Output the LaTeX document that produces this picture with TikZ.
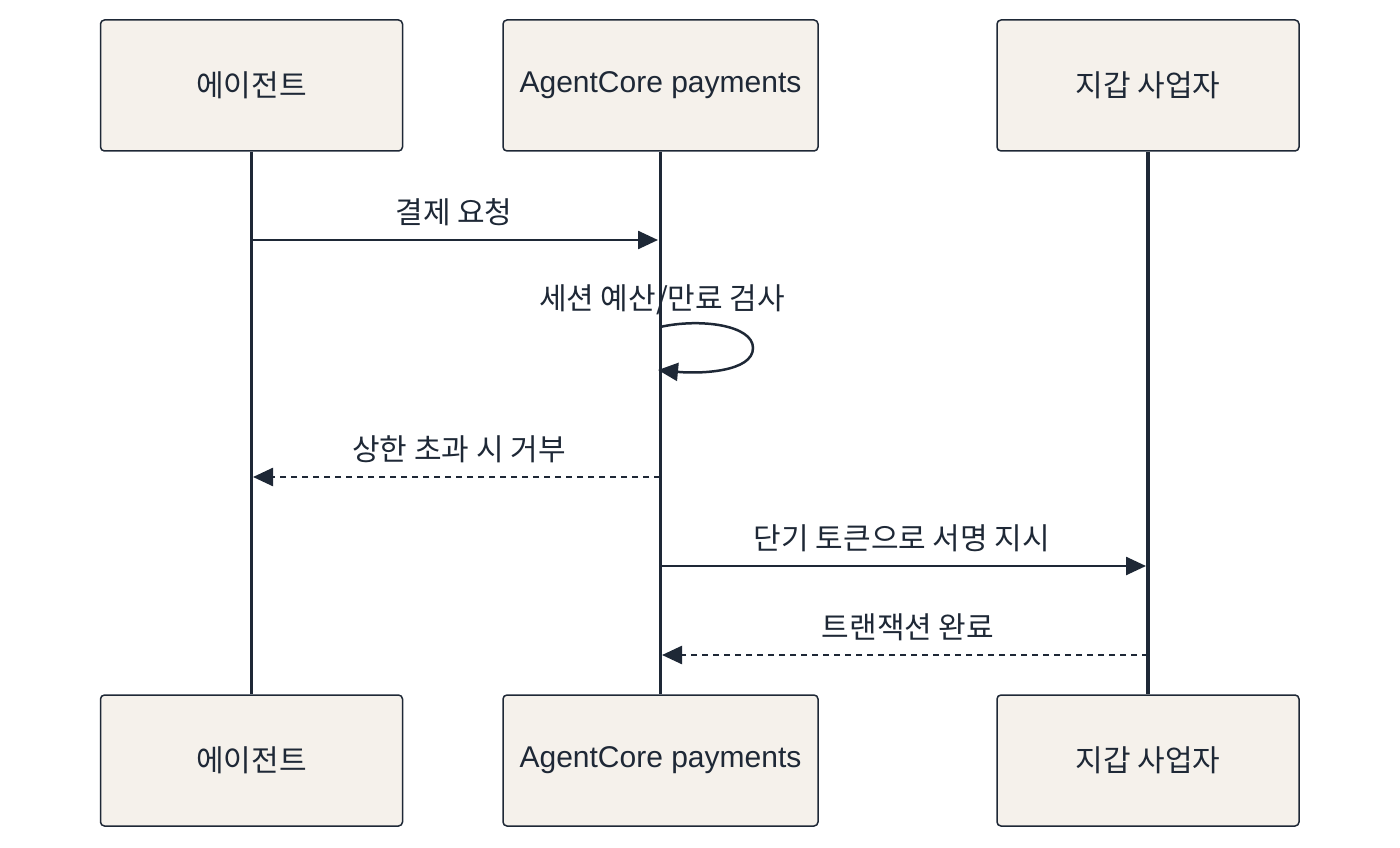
\documentclass[tikz,border=0pt]{standalone}
\usepackage{fontspec}
\setmainfont{Liberation Sans}
\newfontfamily\kr{Noto Sans CJK KR}
\usetikzlibrary{arrows.meta}
\definecolor{ink}{HTML}{1E2836}
\definecolor{boxfill}{HTML}{F5F1EB}
\begin{document}
\begin{tikzpicture}[x=1pt,y=-1pt,
  actor/.style={draw=ink,fill=boxfill,line width=1.5pt,rounded corners=4pt,minimum width=302pt,minimum height=131pt,inner sep=0pt,font=\fontsize{30}{34}\selectfont,text=ink},
  life/.style={draw=ink,line width=3.5pt},
  msg/.style={draw=ink,line width=2.5pt,-{Triangle[length=20pt,width=18pt]}},
  ret/.style={msg,dash pattern=on 6pt off 5pt},
  lab/.style={font=\kr\fontsize{30}{34}\selectfont,text=ink,inner sep=0pt}]
\useasboundingbox (0,0) rectangle (1400,848);
\node[actor] (a1) at (251.5,85.5) {\kr 에이전트};
\node[actor,minimum width=315pt] (b1) at (660.5,85.5) {AgentCore payments};
\node[actor] (c1) at (1148,85.5) {\kr 지갑 사업자};
\node[actor] (a2) at (251.5,760.5) {\kr 에이전트};
\node[actor,minimum width=315pt] (b2) at (660.5,760.5) {AgentCore payments};
\node[actor] (c2) at (1148,760.5) {\kr 지갑 사업자};
\draw[life] (a1) -- (a2);
\draw[life] (b1) -- (b2);
\draw[life] (c1) -- (c2);
\coordinate (p1a) at (251,240); \coordinate (p1b) at (658,240);
\draw[msg] (p1a) -- (p1b);
\node[lab] (l1) at (454,212) {결제 요청};
\coordinate (s1) at (660,327); \coordinate (s2) at (658,370);
\draw[msg] (s1) .. controls (700,318) and (753,325) .. (753,348) .. controls (753,372) and (700,374) .. (s2);
\node[lab] (l2) at (662,300) {세션 예산/만료 검사};
\coordinate (p3a) at (660,477); \coordinate (p3b) at (253,477);
\draw[ret] (p3a) -- (p3b);
\node[lab] (l3) at (459,449) {상한 초과 시 거부};
\coordinate (p4a) at (660,566); \coordinate (p4b) at (1146,566);
\draw[msg] (p4a) -- (p4b);
\node[lab] (l4) at (902,538) {단기 토큰으로 서명 지시};
\coordinate (p5a) at (1148,655); \coordinate (p5b) at (662,655);
\draw[ret] (p5a) -- (p5b);
\node[lab] (l5) at (908,627) {트랜잭션 완료};
\end{tikzpicture}
\end{document}
